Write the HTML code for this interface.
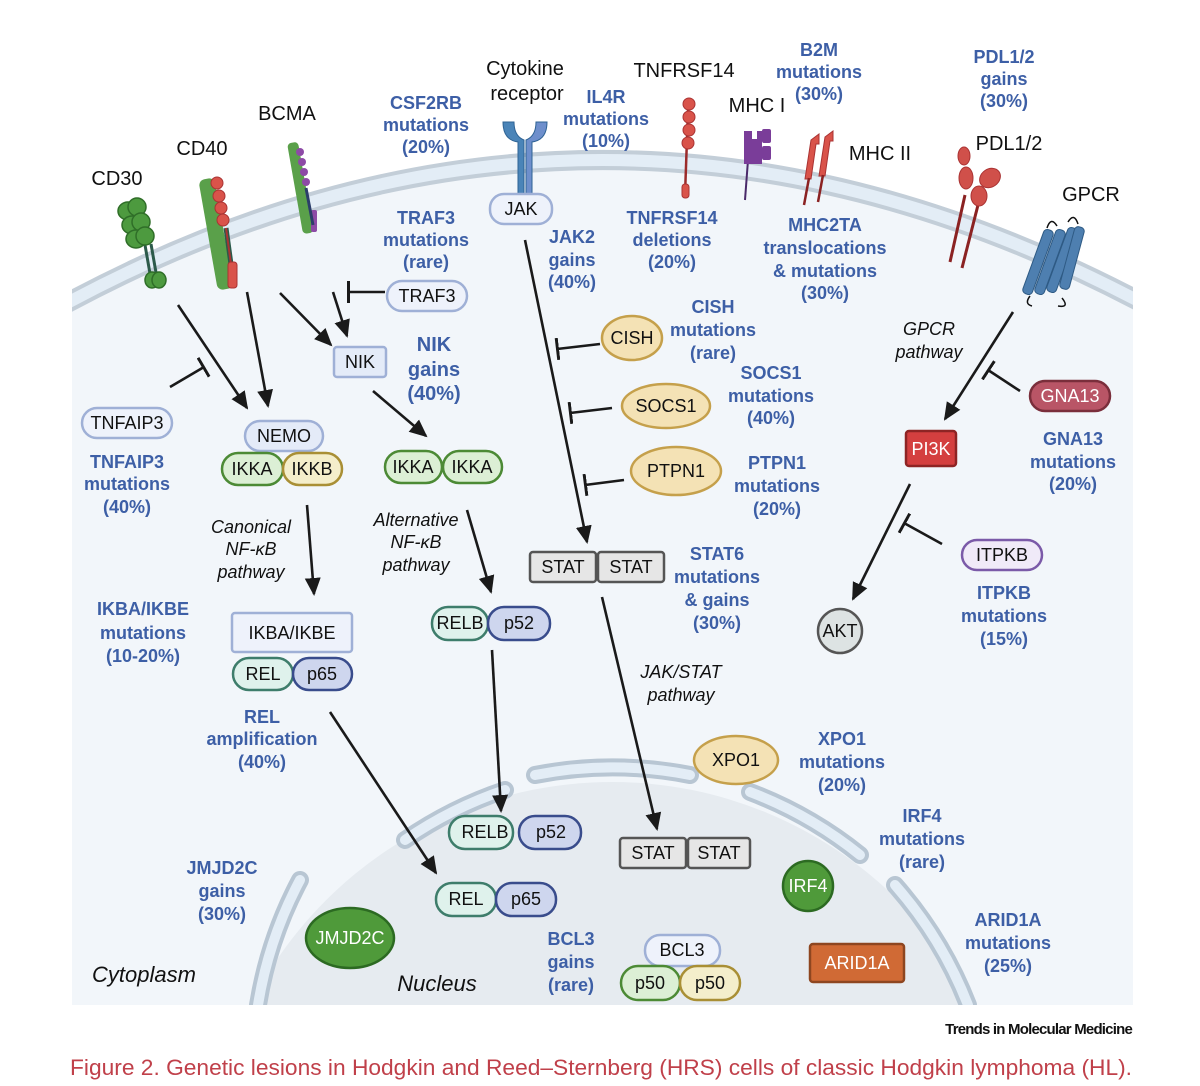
<!DOCTYPE html>
<html><head><meta charset="utf-8"><style>
html,body{margin:0;padding:0;background:#fff;width:1200px;height:1086px;overflow:hidden;}
svg{display:block;font-family:"Liberation Sans",sans-serif;}
.b{fill:#3d5fa6;font-weight:bold;font-size:18px;text-anchor:middle;}
.k{fill:#111;font-size:20px;text-anchor:middle;}
.i{fill:#111;font-size:18px;font-style:italic;text-anchor:middle;}
.n{fill:#111;font-size:18px;text-anchor:middle;dominant-baseline:central;}
.w{fill:#fff;font-size:18px;text-anchor:middle;dominant-baseline:central;}
.a{stroke:#1a1a1a;stroke-width:2.6;fill:none;}
</style></head><body>
<svg width="1200" height="1086" viewBox="0 0 1200 1086" xmlns="http://www.w3.org/2000/svg">
<defs>
<marker id="ah" markerWidth="18" markerHeight="18" refX="16" refY="9" orient="auto" markerUnits="userSpaceOnUse"><path d="M0,1 L18,9 L0,17 z" fill="#1a1a1a"/></marker>
<marker id="tb" markerWidth="4" markerHeight="22" refX="2" refY="11" orient="auto" markerUnits="userSpaceOnUse"><rect x="0" y="0" width="3" height="22" fill="#1a1a1a"/></marker>
<clipPath id="cp"><rect x="72" y="0" width="1061" height="1005"/></clipPath>
</defs>
<g clip-path="url(#cp)">
<path d="M40 318 Q600 2 1170 318 L1170 1005 L40 1005 Z" fill="#f2f6fa"/>
<path d="M40 318 Q600 2 1170 318" fill="none" stroke="#c3ced8" stroke-width="20"/>
<path d="M40 318 Q600 2 1170 318" fill="none" stroke="#e3edf6" stroke-width="12"/>
<circle cx="612" cy="1187" r="405" fill="#e6ebf0"/>
<g fill="none" stroke-linecap="round">
<g stroke="#b8c6d3" stroke-width="18">
<path d="M258 1005 A402 402 0 0 1 300 880"/>
<path d="M405 840 A402 402 0 0 1 505 790"/>
<path d="M535 775 A402 402 0 0 1 690 775"/>
<path d="M750 792 A402 402 0 0 1 860 855"/>
<path d="M895 885 A402 402 0 0 1 968 1005"/>
</g>
<g stroke="#e3edf6" stroke-width="10">
<path d="M258 1005 A402 402 0 0 1 300 880"/>
<path d="M405 840 A402 402 0 0 1 505 790"/>
<path d="M535 775 A402 402 0 0 1 690 775"/>
<path d="M750 792 A402 402 0 0 1 860 855"/>
<path d="M895 885 A402 402 0 0 1 968 1005"/>
</g>
</g>
</g>

<g>
<line x1="145" y1="245" x2="152" y2="285" stroke="#2c5a4a" stroke-width="3"/>
<line x1="151" y1="244" x2="158" y2="284" stroke="#2c5a4a" stroke-width="3"/>
<g fill="#4d9a3f" stroke="#2f6e28" stroke-width="1.5">
<ellipse cx="128" cy="211" rx="10" ry="9"/><ellipse cx="137" cy="207" rx="9" ry="9"/>
<ellipse cx="132" cy="225" rx="10" ry="9"/><ellipse cx="141" cy="222" rx="9" ry="9"/>
<ellipse cx="136" cy="239" rx="10" ry="9"/><ellipse cx="145" cy="236" rx="9" ry="9"/>
<ellipse cx="152" cy="280" rx="7" ry="8"/><ellipse cx="159" cy="280" rx="7" ry="8"/>
</g>
<rect x="208" y="178" width="16" height="112" rx="6" fill="#5aa04a" transform="rotate(-10 216 234)"/>
<line x1="226" y1="228" x2="234" y2="286" stroke="#2c5a4a" stroke-width="5"/>
<line x1="226" y1="228" x2="234" y2="286" stroke="#a33" stroke-width="2"/>
<g fill="#d9534a" stroke="#a33" stroke-width="1">
<circle cx="217" cy="183" r="6"/><circle cx="219" cy="196" r="6"/><circle cx="221" cy="208" r="6"/><circle cx="223" cy="220" r="6"/>
<rect x="228" y="262" width="9" height="26" rx="3"/></g>
<rect x="295" y="142" width="11" height="92" rx="4" fill="#5aa04a" transform="rotate(-10 300 188)"/>
<g fill="#8d4aa6"><circle cx="300" cy="152" r="4"/><circle cx="302" cy="162" r="4"/><circle cx="304" cy="172" r="4"/><circle cx="306" cy="182" r="4"/><rect x="311" y="210" width="6" height="22" rx="2"/></g>
<line x1="306" y1="188" x2="313" y2="225" stroke="#2c3e6a" stroke-width="3"/>
<g fill="#4a84b8" stroke="#2f6394" stroke-width="1">
<path d="M503 122 q0 18 15 20 v58 h6 v-60 q-10 -4 -10 -18 z"/>
<path d="M547 122 q0 18 -15 20 v58 h-6 v-60 q10 -4 10 -18 z" fill="#6e8fcc"/>
</g>
<line x1="688" y1="110" x2="685" y2="195" stroke="#9b2b2b" stroke-width="2.5"/>
<g fill="#d9534a" stroke="#a33"><circle cx="689" cy="104" r="6"/><circle cx="689" cy="117" r="6"/><circle cx="689" cy="130" r="6"/><circle cx="688" cy="143" r="6"/><rect x="682" y="184" width="7" height="14" rx="3"/></g>
<line x1="748" y1="160" x2="745" y2="200" stroke="#4a2a6a" stroke-width="2"/>
<g fill="#7a3d99"><path d="M744 131 h8 v8 h5 v-8 h5 v33 h-18 z"/><rect x="762" y="129" width="9" height="14" rx="2"/><rect x="762" y="146" width="9" height="14" rx="2"/></g>
<g fill="#d9534a" stroke="#a33"><path d="M811 140 l8 -6 l0 10 l-3 0 l-5 35 l-6 0 z"/><path d="M825 137 l8 -6 l0 10 l-3 0 l-5 35 l-6 0 z"/></g>
<line x1="809" y1="178" x2="804" y2="205" stroke="#8b2222" stroke-width="2.5"/><line x1="823" y1="175" x2="818" y2="202" stroke="#8b2222" stroke-width="2.5"/>
<line x1="965" y1="195" x2="950" y2="262" stroke="#8b2222" stroke-width="3"/>
<line x1="978" y1="205" x2="962" y2="268" stroke="#8b2222" stroke-width="3"/>
<g fill="#d0504a" stroke="#a33"><ellipse cx="964" cy="156" rx="6" ry="9"/><ellipse cx="966" cy="178" rx="7" ry="11"/><ellipse cx="979" cy="196" rx="8" ry="10"/><ellipse cx="990" cy="178" rx="11" ry="9" transform="rotate(-35 990 178)"/></g>
<g fill="#4e7fb0" stroke="#2e5a84" stroke-width="1">
<rect x="1033" y="228" width="10" height="68" rx="4" transform="rotate(20 1038 262)"/>
<rect x="1045" y="228" width="10" height="68" rx="4" transform="rotate(20 1050 262)"/>
<rect x="1057" y="226" width="10" height="68" rx="4" transform="rotate(20 1062 260)"/>
<rect x="1067" y="226" width="10" height="64" rx="4" transform="rotate(15 1072 258)"/>
</g>
<path d="M1047 228 q4 -12 10 -2 M1068 222 q6 -10 10 2 M1030 296 q-6 8 2 10 M1062 298 q8 10 -4 8" stroke="#111" stroke-width="1.5" fill="none"/>
</g>

<g class="a">
<line x1="178" y1="305" x2="247" y2="408" marker-end="url(#ah)"/>
<line x1="247" y1="292" x2="268" y2="406" marker-end="url(#ah)"/>
<line x1="280" y1="293" x2="331" y2="345" marker-end="url(#ah)"/>
<line x1="333" y1="292" x2="347" y2="336" marker-end="url(#ah)"/>
<line x1="385" y1="292" x2="348" y2="292" marker-end="url(#tb)"/>
<line x1="170" y1="387" x2="204" y2="367" marker-end="url(#tb)"/>
<line x1="373" y1="391" x2="426" y2="436" marker-end="url(#ah)"/>
<line x1="307" y1="505" x2="314" y2="594" marker-end="url(#ah)"/>
<line x1="467" y1="510" x2="491" y2="592" marker-end="url(#ah)"/>
<line x1="525" y1="240" x2="587" y2="542" marker-end="url(#ah)"/>
<line x1="600" y1="344" x2="557" y2="349" marker-end="url(#tb)"/>
<line x1="612" y1="408" x2="570" y2="413" marker-end="url(#tb)"/>
<line x1="624" y1="480" x2="585" y2="485" marker-end="url(#tb)"/>
<line x1="602" y1="597" x2="657" y2="829" marker-end="url(#ah)"/>
<line x1="492" y1="650" x2="501" y2="811" marker-end="url(#ah)"/>
<line x1="330" y1="712" x2="436" y2="873" marker-end="url(#ah)"/>
<line x1="1013" y1="312" x2="945" y2="419" marker-end="url(#ah)"/>
<line x1="1020" y1="391" x2="988" y2="370" marker-end="url(#tb)"/>
<line x1="910" y1="484" x2="853" y2="599" marker-end="url(#ah)"/>
<line x1="942" y1="544" x2="904" y2="523" marker-end="url(#tb)"/>
</g>

<g stroke-width="2.5">
<rect x="490" y="194" width="62" height="30" rx="14" fill="#eef2fb" stroke="#9fb0d6"/><text class="n" x="521" y="209">JAK</text>
<rect x="387" y="281" width="80" height="30" rx="15" fill="#eef2fb" stroke="#9fb0d6"/><text class="n" x="427" y="296">TRAF3</text>
<rect x="334" y="347" width="52" height="30" rx="3" fill="#e4ebf8" stroke="#9fb0d6"/><text class="n" x="360" y="362">NIK</text>
<rect x="82" y="408" width="90" height="30" rx="15" fill="#eef2fb" stroke="#9fb0d6"/><text class="n" x="127" y="423">TNFAIP3</text>
<rect x="245" y="421" width="78" height="30" rx="15" fill="#e4ebf8" stroke="#9fb0d6"/><text class="n" x="284" y="436">NEMO</text>
<rect x="222" y="453" width="61" height="32" rx="16" fill="#dcefd5" stroke="#4c8a35"/><text class="n" x="252" y="469">IKKA</text>
<rect x="283" y="453" width="59" height="32" rx="16" fill="#f4eecb" stroke="#a98f35"/><text class="n" x="312" y="469">IKKB</text>
<rect x="385" y="451" width="57" height="32" rx="16" fill="#dcefd5" stroke="#4c8a35"/><text class="n" x="413" y="467">IKKA</text>
<rect x="443" y="451" width="59" height="32" rx="16" fill="#dcefd5" stroke="#4c8a35"/><text class="n" x="472" y="467">IKKA</text>
<ellipse cx="632" cy="338" rx="30" ry="22" fill="#f4e2b5" stroke="#c5a04b"/><text class="n" x="632" y="338">CISH</text>
<ellipse cx="666" cy="406" rx="44" ry="22" fill="#f4e2b5" stroke="#c5a04b"/><text class="n" x="666" y="406">SOCS1</text>
<ellipse cx="676" cy="471" rx="45" ry="24" fill="#f4e2b5" stroke="#c5a04b"/><text class="n" x="676" y="471">PTPN1</text>
<rect x="530" y="552" width="66" height="30" rx="3" fill="#e6e6e6" stroke="#555"/><text class="n" x="563" y="567">STAT</text>
<rect x="598" y="552" width="66" height="30" rx="3" fill="#e6e6e6" stroke="#555"/><text class="n" x="631" y="567">STAT</text>
<rect x="232" y="613" width="120" height="39" rx="3" fill="#eef2fb" stroke="#9fb0d6"/><text class="n" x="292" y="633">IKBA/IKBE</text>
<rect x="233" y="658" width="60" height="32" rx="16" fill="#dff2ec" stroke="#3e7d6b"/><text class="n" x="263" y="674">REL</text>
<rect x="293" y="658" width="59" height="32" rx="16" fill="#ced6ee" stroke="#394c8c"/><text class="n" x="322" y="674">p65</text>
<rect x="432" y="607" width="56" height="33" rx="16" fill="#dff2ec" stroke="#3e7d6b"/><text class="n" x="460" y="623">RELB</text>
<rect x="488" y="607" width="62" height="33" rx="16" fill="#ced6ee" stroke="#394c8c"/><text class="n" x="519" y="623">p52</text>
<rect x="1030" y="381" width="80" height="30" rx="15" fill="#b95566" stroke="#7a2e3b"/><text class="w" x="1070" y="396">GNA13</text>
<rect x="906" y="431" width="50" height="35" rx="3" fill="#d43f3f" stroke="#8e2424"/><text class="w" x="931" y="449">PI3K</text>
<rect x="962" y="540" width="80" height="30" rx="15" fill="#f0eaf8" stroke="#7b5aa8"/><text class="n" x="1002" y="555">ITPKB</text>
<circle cx="840" cy="631" r="22" fill="#dde3e3" stroke="#555"/><text class="n" x="840" y="631">AKT</text>
<ellipse cx="736" cy="760" rx="42" ry="24" fill="#f4e2b5" stroke="#c5a04b"/><text class="n" x="736" y="760">XPO1</text>
<rect x="449" y="816" width="64" height="33" rx="16" fill="#dff2ec" stroke="#3e7d6b"/><text class="n" x="485" y="832">RELB</text>
<rect x="519" y="816" width="62" height="33" rx="16" fill="#ced6ee" stroke="#394c8c"/><text class="n" x="551" y="832">p52</text>
<rect x="620" y="838" width="66" height="30" rx="3" fill="#e6e6e6" stroke="#555"/><text class="n" x="653" y="853">STAT</text>
<rect x="688" y="838" width="62" height="30" rx="3" fill="#e6e6e6" stroke="#555"/><text class="n" x="719" y="853">STAT</text>
<circle cx="808" cy="886" r="25" fill="#4f9a3a" stroke="#2c6a22"/><text class="w" x="808" y="886">IRF4</text>
<rect x="436" y="883" width="60" height="33" rx="16" fill="#dff2ec" stroke="#3e7d6b"/><text class="n" x="466" y="899">REL</text>
<rect x="496" y="883" width="60" height="33" rx="16" fill="#ced6ee" stroke="#394c8c"/><text class="n" x="526" y="899">p65</text>
<ellipse cx="350" cy="938" rx="44" ry="30" fill="#4f9a3a" stroke="#2c6a22"/><text class="w" x="350" y="938">JMJD2C</text>
<rect x="810" y="944" width="94" height="38" rx="3" fill="#d06a35" stroke="#8e4620"/><text class="w" x="857" y="963">ARID1A</text>
<rect x="645" y="935" width="75" height="31" rx="15" fill="#eef2fb" stroke="#9fb0d6"/><text class="n" x="682" y="950">BCL3</text>
<rect x="621" y="966" width="59" height="34" rx="17" fill="#dcefd5" stroke="#4c8a35"/><text class="n" x="650" y="983">p50</text>
<rect x="680" y="966" width="60" height="34" rx="17" fill="#f4eecb" stroke="#a98f35"/><text class="n" x="710" y="983">p50</text>
</g>

<text class="k" x="117" y="185">CD30</text>
<text class="k" x="202" y="155">CD40</text>
<text class="k" x="287" y="120">BCMA</text>
<text class="k" x="525" y="75">Cytokine</text>
<text class="k" x="527" y="100">receptor</text>
<text class="k" x="684" y="77">TNFRSF14</text>
<text class="k" x="757" y="112">MHC I</text>
<text class="k" x="880" y="160">MHC II</text>
<text class="k" x="1009" y="150">PDL1/2</text>
<text class="k" x="1091" y="201">GPCR</text>

<text class="i" x="251" y="533">Canonical</text><text class="i" x="251" y="555">NF-κB</text><text class="i" x="251" y="578">pathway</text>
<text class="i" x="416" y="526">Alternative</text><text class="i" x="416" y="548">NF-κB</text><text class="i" x="416" y="571">pathway</text>
<text class="i" x="681" y="678">JAK/STAT</text><text class="i" x="681" y="701">pathway</text>
<text class="i" x="929" y="335">GPCR</text><text class="i" x="929" y="358">pathway</text>
<text class="i" x="144" y="982" style="font-size:22px">Cytoplasm</text>
<text class="i" x="437" y="991" style="font-size:22px">Nucleus</text>

<g class="b">
<text x="426" y="109">CSF2RB</text><text x="426" y="131">mutations</text><text x="426" y="153">(20%)</text>
<text x="606" y="103">IL4R</text><text x="606" y="125">mutations</text><text x="606" y="147">(10%)</text>
<text x="819" y="56">B2M</text><text x="819" y="78">mutations</text><text x="819" y="100">(30%)</text>
<text x="1004" y="63">PDL1/2</text><text x="1004" y="85">gains</text><text x="1004" y="107">(30%)</text>
<text x="426" y="224">TRAF3</text><text x="426" y="246">mutations</text><text x="426" y="268">(rare)</text>
<text x="572" y="243">JAK2</text><text x="572" y="266">gains</text><text x="572" y="288">(40%)</text>
<text x="672" y="224">TNFRSF14</text><text x="672" y="246">deletions</text><text x="672" y="268">(20%)</text>
<text x="825" y="231">MHC2TA</text><text x="825" y="254">translocations</text><text x="825" y="277">&amp; mutations</text><text x="825" y="299">(30%)</text>
<text x="713" y="313">CISH</text><text x="713" y="336">mutations</text><text x="713" y="359">(rare)</text>
<text x="434" y="351" style="font-size:20px">NIK</text><text x="434" y="376" style="font-size:20px">gains</text><text x="434" y="400" style="font-size:20px">(40%)</text>
<text x="771" y="379">SOCS1</text><text x="771" y="402">mutations</text><text x="771" y="424">(40%)</text>
<text x="127" y="468">TNFAIP3</text><text x="127" y="490">mutations</text><text x="127" y="513">(40%)</text>
<text x="1073" y="445">GNA13</text><text x="1073" y="468">mutations</text><text x="1073" y="490">(20%)</text>
<text x="777" y="469">PTPN1</text><text x="777" y="492">mutations</text><text x="777" y="515">(20%)</text>
<text x="717" y="560">STAT6</text><text x="717" y="583">mutations</text><text x="717" y="606">&amp; gains</text><text x="717" y="629">(30%)</text>
<text x="143" y="615">IKBA/IKBE</text><text x="143" y="639">mutations</text><text x="143" y="662">(10-20%)</text>
<text x="1004" y="599">ITPKB</text><text x="1004" y="622">mutations</text><text x="1004" y="645">(15%)</text>
<text x="262" y="723">REL</text><text x="262" y="745">amplification</text><text x="262" y="768">(40%)</text>
<text x="842" y="745">XPO1</text><text x="842" y="768">mutations</text><text x="842" y="791">(20%)</text>
<text x="922" y="822">IRF4</text><text x="922" y="845">mutations</text><text x="922" y="868">(rare)</text>
<text x="222" y="874">JMJD2C</text><text x="222" y="897">gains</text><text x="222" y="920">(30%)</text>
<text x="1008" y="926">ARID1A</text><text x="1008" y="949">mutations</text><text x="1008" y="972">(25%)</text>
<text x="571" y="945">BCL3</text><text x="571" y="968">gains</text><text x="571" y="991">(rare)</text>
</g>

<text x="1132" y="1034" text-anchor="end" style="font-size:15px;font-weight:bold;letter-spacing:-0.8px" fill="#111">Trends in Molecular Medicine</text>
<text x="70" y="1075" style="font-size:22px" fill="#c0404a" textLength="1062" lengthAdjust="spacingAndGlyphs">Figure 2. Genetic lesions in Hodgkin and Reed–Sternberg (HRS) cells of classic Hodgkin lymphoma (HL).</text>
</svg>
</body></html>
